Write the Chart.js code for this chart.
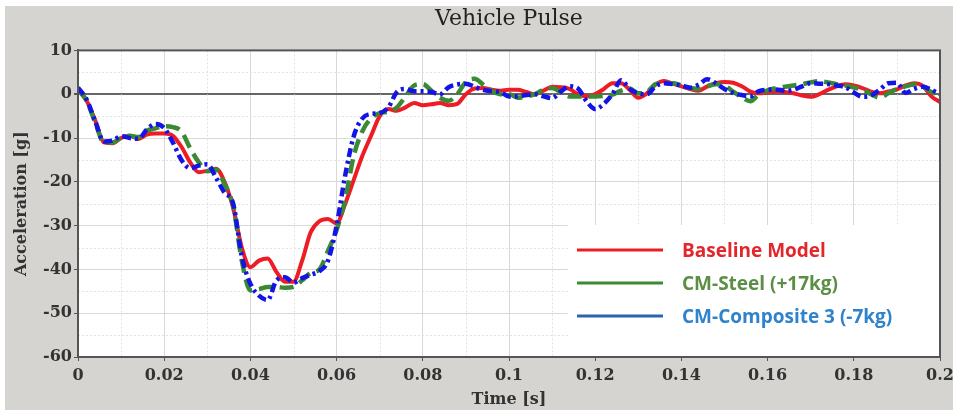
<!DOCTYPE html>
<html>
  <head>
    <title>Vehicle Pulse</title>
    <script src="https://cdn.jsdelivr.net/npm/chart.js@4.4.0/dist/chart.umd.min.js"></script>
    <style>
      body { margin: 0; background: #ffffff; }
      #wrap { position: absolute; left: 5px; top: 6px; width: 948px; height: 404px; background: #d6d4d0; }
    </style>
  </head>
  <body>
    <div id="wrap"><canvas id="myChart" width="948" height="404"></canvas></div>
    <script>
      // time samples [s]
      var times = [
        0, 0.002, 0.004, 0.006, 0.008, 0.01, 0.012, 0.014, 0.016, 0.018,
        0.02, 0.022, 0.024, 0.026, 0.028, 0.03, 0.032, 0.034, 0.036, 0.038,
        0.04, 0.042, 0.044, 0.046, 0.048, 0.05, 0.052, 0.054, 0.056, 0.058,
        0.06, 0.062, 0.064, 0.066, 0.068, 0.07, 0.072, 0.074, 0.076, 0.078,
        0.08, 0.082, 0.084, 0.086, 0.088, 0.09, 0.092, 0.094, 0.096, 0.098,
        0.1, 0.102, 0.104, 0.106, 0.108, 0.11, 0.112, 0.114, 0.116, 0.118,
        0.12, 0.122, 0.124, 0.126, 0.128, 0.13, 0.132, 0.134, 0.136, 0.138,
        0.14, 0.142, 0.144, 0.146, 0.148, 0.15, 0.152, 0.154, 0.156, 0.158,
        0.16, 0.162, 0.164, 0.166, 0.168, 0.17, 0.172, 0.174, 0.176, 0.178,
        0.18, 0.182, 0.184, 0.186, 0.188, 0.19, 0.192, 0.194, 0.196, 0.198,
        0.2
      ];

      // acceleration [g]
      var baseline = [
        1.0, -1.5, -6, -11, -11.2, -10, -9.5, -10.2, -9.2, -9,
        -9, -9.5, -12, -15.5, -17.8, -17.5, -17, -20, -26, -35,
        -39.5, -38, -37.5, -40.5, -42.8, -42.8, -38, -31.5, -29, -28.5,
        -29.5, -25, -19.5, -14, -9.5, -5, -3.4, -3.8, -3, -2,
        -2.5, -2.3, -2, -2.5, -2.2, 0, 1.3, 1.4, 1, 0.8,
        1, 1, 0.5, 0, 0.8, 1.7, 1.6, 1.2, 0, -0.5,
        0, 1.2, 2.5, 2.5, 1, -0.8, 0.2, 2.2, 3, 2.4,
        1.8, 1.2, 0.8, 1.8, 2.5, 2.8, 2.6, 1.8, 0.6, 0.2,
        0.4, 0.7, 0.5, 0.2, -0.3, -0.6, 0, 1, 1.8, 2.3,
        2, 1.4, 0.6, 0.2, 0.6, 1.1, 2, 2.5, 1.9, -0.5,
        -1.8
      ];
      var cmSteel = [
        1.0, -1.5, -6.5, -11, -11, -10, -9.5, -9.8, -8.3, -7.8,
        -7.3, -7.5, -8.5, -12.3, -15.5, -17.6, -17.2, -20.5, -25.5, -38,
        -44.8, -44.5, -44, -44, -44.2, -44, -42.5, -40.8, -40, -35.8,
        -31, -24, -14, -8.4, -5.5, -4.3, -4, -3, -0.5, 2,
        2.3, 0.8, -0.8, -1.5, 0, 2.8, 3.5, 2.2, 0.8, 0,
        0, -0.8, -0.5, 0, 1, 1.4, 0.5, -0.5, -0.5, -0.5,
        -0.5, -0.4, -0.1, 0.8, 1.3, 0.2, 0.5, 2.3, 2.5, 2.5,
        2, 1.4, 1.2, 1.8, 2.3, 2, 0.6, -0.7, -1.6, 0,
        0.9, 1.4, 1.7, 2, 2.3, 2.7, 3, 2.7, 2.3, 2,
        1.5, 1.1, 0, -0.8, 0.2, 1.2, 1.8, 2.2, 1.8, 0.5,
        0
      ];
      var cmComposite = [
        1.5, -1.2, -6.2, -10.8, -10.6, -9.6, -10, -10.2, -8, -6.8,
        -7.7, -11, -15, -16.9, -16.3, -16, -19, -22.5, -25, -37,
        -43.3, -46, -47, -42.6, -41.8, -43, -42, -41.2, -40.4, -38,
        -30, -18.5, -9.5, -5.5, -4.5, -4.3, -3, 0.5, 1.2, 0.7,
        0.7, 0.5, 0, 1.6, 2.2, 2.4, 1.7, 1, 0.7, 0.5,
        -0.5, -0.5, -0.2, 0, -0.5, -0.9, 0.6, 1.8, 1.3, -1.6,
        -3.4, -2.2, 0, 3.2, 1.2, 0.2, 0, 1.8, 2.5, 2.3,
        2, 1.5, 2.2, 3.4, 2.5, 1.2, 0.3, -0.2, -0.5, 0.7,
        1, 1.1, 0.8, 1, 1.8, 2.5, 2.4, 2.3, 2, 1.6,
        0.4, -0.6, -0.3, 1, 2.5, 2.6, 0.3, 1.2, 1.7, 1,
        0
      ];

      var seriesNames = ["Baseline Model", "CM-Steel (+17kg)", "CM-Composite 3 (-7kg)"];

      function toPoints(values) {
        return times.map(function (t, i) {
          return { x: t, y: values[i] };
        });
      }

      // white plot area, dotted minor grid, frame and legend box
      var plotDecor = {
        id: "plotDecor",
        beforeDraw: function (chart) {
          var a = chart.chartArea;
          var c = chart.ctx;
          c.save();
          c.fillStyle = "#ffffff";
          c.fillRect(a.left, a.top, a.right - a.left, a.bottom - a.top);
          c.restore();
        },
        beforeDatasetsDraw: function (chart) {
          var a = chart.chartArea;
          var c = chart.ctx;
          var xs = chart.scales.x;
          var ys = chart.scales.y;
          c.save();
          c.strokeStyle = "#e2e2e2";
          c.lineWidth = 1;
          c.setLineDash([2, 2]);
          for (var k = 1; k < 20; k += 2) {
            var px = Math.round(xs.getPixelForValue(k * 0.01)) + 0.5;
            c.beginPath();
            c.moveTo(px, a.top);
            c.lineTo(px, a.bottom);
            c.stroke();
          }
          for (var v = 5; v > -60; v -= 10) {
            var py = Math.round(ys.getPixelForValue(v)) + 0.5;
            c.beginPath();
            c.moveTo(a.left, py);
            c.lineTo(a.right, py);
            c.stroke();
          }
          c.restore();
        },
        afterDraw: function (chart) {
          var a = chart.chartArea;
          var c = chart.ctx;
          c.save();
          c.strokeStyle = "#555555";
          c.lineWidth = 2;
          c.strokeRect(a.left, a.top, a.right - a.left, a.bottom - a.top);

          // legend inside the plot
          var bx = 563, by = 219;
          c.fillStyle = "#ffffff";
          c.fillRect(bx, by, a.right - 1 - bx, a.bottom - 1 - by);
          var lineCols = ["#ec1c24", "#3f8a36", "#2b64b0"];
          var textCols = ["#e3262c", "#5b8f45", "#2f82cc"];
          c.font = "bold 19px 'Open Sans'";
          c.textBaseline = "middle";
          for (var i = 0; i < seriesNames.length; i++) {
            var ly = 244 + i * 33;
            c.strokeStyle = lineCols[i];
            c.lineWidth = 3;
            c.beginPath();
            c.moveTo(572, ly);
            c.lineTo(658, ly);
            c.stroke();
            c.fillStyle = textCols[i];
            c.fillText(seriesNames[i], 677, ly + 2);
          }
          c.restore();
        },
      };

      var ctx = document.getElementById("myChart").getContext("2d");

      var chart = new Chart(ctx, {
        type: "line",
        data: {
          datasets: [
            {
              label: seriesNames[0],
              data: toPoints(baseline),
              borderColor: "#ee1c24",
              borderWidth: 4,
              order: 3,
            },
            {
              label: seriesNames[1],
              data: toPoints(cmSteel),
              borderColor: "#3a8a34",
              borderWidth: 4.5,
              borderDash: [14, 7],
              order: 2,
            },
            {
              label: seriesNames[2],
              data: toPoints(cmComposite),
              borderColor: "#1414e6",
              borderWidth: 4.5,
              borderDash: [9, 4, 3, 4],
              order: 1,
            },
          ],
        },
        options: {
          responsive: false,
          animation: false,
          layout: { padding: { left: 0, right: 13, top: 0, bottom: 0 } },
          elements: {
            point: { radius: 0 },
            line: { cubicInterpolationMode: "monotone", fill: false },
          },
          plugins: {
            legend: { display: false },
            tooltip: { enabled: false },
            title: {
              display: true,
              fullSize: false,
              text: "Vehicle Pulse",
              color: "#222222",
              font: { family: "'DejaVu Serif'", size: 22, weight: "normal" },
              padding: { top: 0, bottom: 18 },
            },
          },
          scales: {
            x: {
              type: "linear",
              min: 0,
              max: 0.2,
              afterFit: function (scale) {
                scale.height = 53;
                scale.paddingRight = 0;
              },
              ticks: {
                stepSize: 0.02,
                color: "#333333",
                padding: 5,
                font: { family: "'DejaVu Serif'", size: 16, weight: "bold" },
                maxRotation: 0,
                callback: function (value) {
                  return String(parseFloat(value.toFixed(2)));
                },
              },
              grid: {
                color: "#d9d9d9",
                tickColor: "#555555",
                tickLength: 4,
              },
              border: { color: "#555555", width: 2 },
              title: {
                display: true,
                text: "Time [s]",
                color: "#333333",
                font: { family: "'DejaVu Serif'", size: 16, weight: "bold" },
                padding: { top: 0, bottom: 1 },
              },
            },
            y: {
              min: -60,
              max: 10,
              afterFit: function (scale) {
                scale.width = 73;
              },
              ticks: {
                stepSize: 10,
                color: "#333333",
                padding: 2,
                font: { family: "'DejaVu Serif'", size: 16, weight: "bold" },
              },
              grid: {
                color: function (c) {
                  return c.tick && c.tick.value === 0 ? "#666666" : "#d9d9d9";
                },
                lineWidth: function (c) {
                  return c.tick && c.tick.value === 0 ? 2 : 1;
                },
                tickColor: "#555555",
                tickLength: 4,
              },
              border: { color: "#555555", width: 2 },
              title: {
                display: true,
                text: "Acceleration [g]",
                color: "#333333",
                font: { family: "'DejaVu Serif'", size: 16, weight: "bold" },
                padding: { top: 7, bottom: 0 },
              },
            },
          },
        },
        plugins: [plotDecor],
      });
    </script>
  </body>
</html>
